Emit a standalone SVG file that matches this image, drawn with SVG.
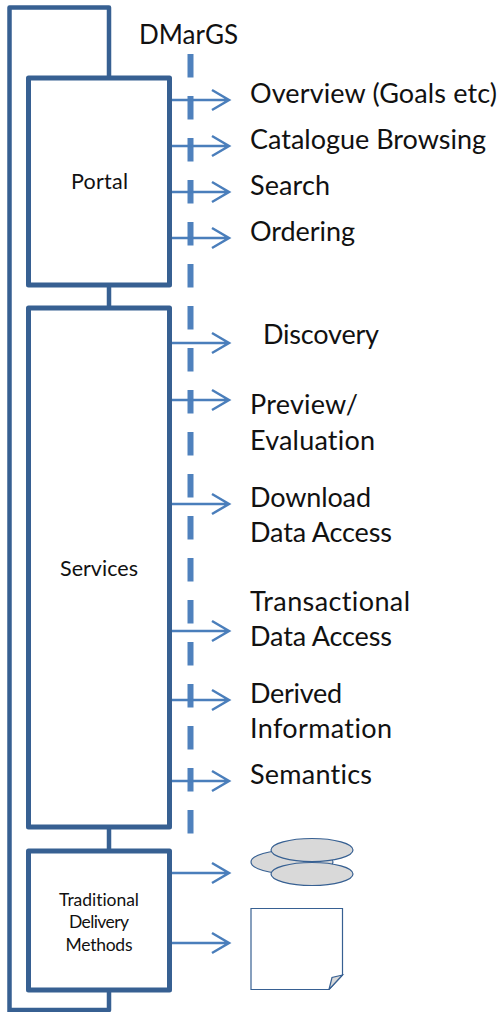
<svg xmlns="http://www.w3.org/2000/svg" width="499" height="1012" viewBox="0 0 499 1012">
<style>
.box{fill:#fff;stroke:#376092;stroke-width:5;stroke-linejoin:round}
.bus{fill:none;stroke:#376092;stroke-width:4.5;stroke-linejoin:round}
.dash{fill:none;stroke:#4f81bd;stroke-width:6;stroke-dasharray:23.5 18.5}
.arr{fill:none;stroke:#4a7ebb;stroke-width:2.5}
.shp{fill:#d9d9d9;stroke:#376092;stroke-width:1.2}
text{font-family:"Lato","Open Sans",sans-serif;fill:#111;font-variant-ligatures:none}
.l{font-size:27px}
.h{font-size:26px}
.s{font-size:21.5px;text-anchor:middle}
.t{font-size:17.5px;text-anchor:middle}
</style>
<rect width="499" height="1012" fill="#fff"/>
<g id="connectors">
<path class="bus" d="M9.500 1012V7.500H109V78M109 285V308M109 827V851M109 990V1010H9.500"/>
<path class="dash" d="M190.500 54V834"/>
<g id="arrows">
<path class="arr" d="M171 100H229M212 90L229 100L212 110"/>
<path class="arr" d="M171 146H229M212 136L229 146L212 156"/>
<path class="arr" d="M171 192H229M212 182L229 192L212 202"/>
<path class="arr" d="M171 238H229M212 228L229 238L212 248"/>
<path class="arr" d="M171 343H229M212 333L229 343L212 353"/>
<path class="arr" d="M171 400H229M212 390L229 400L212 410"/>
<path class="arr" d="M171 504H229M212 494L229 504L212 514"/>
<path class="arr" d="M171 631H229M212 621L229 631L212 641"/>
<path class="arr" d="M171 700H229M212 690L229 700L212 710"/>
<path class="arr" d="M171 781H229M212 771L229 781L212 791"/>
<path class="arr" d="M171 873H229M212 863L229 873L212 883"/>
<path class="arr" d="M171 943H229M212 933L229 943L212 953"/>
</g>
</g>
<g id="portal"><rect class="box" x="28.500" y="78" width="141" height="207"/><text class="s" x="99.500" y="189" textLength="57">Portal</text></g>
<g id="services"><rect class="box" x="28.500" y="308" width="141" height="519"/><text class="s" x="99" y="576" textLength="78">Services</text></g>
<g id="traditional"><rect class="box" x="28.500" y="851" width="141" height="139"/>
<text class="t" x="99" y="906" textLength="80">Traditional</text><text class="t" x="99" y="928" textLength="60">Delivery</text><text class="t" x="99" y="951" textLength="67">Methods</text></g>
<g id="title"><text class="h" x="139" y="44" textLength="99">DMarGS</text></g>
<g id="labels">
<text class="l" x="250" y="103" textLength="247">Overview (Goals etc)</text>
<text class="l" x="250" y="149" textLength="236">Catalogue Browsing</text>
<text class="l" x="250" y="195" textLength="80">Search</text>
<text class="l" x="250" y="241" textLength="105">Ordering</text>
<text class="l" x="263" y="344" textLength="116">Discovery</text>
<text class="l" x="250" y="413.500" textLength="108">Preview/</text>
<text class="l" x="250" y="450" textLength="125">Evaluation</text>
<text class="l" x="250" y="507" textLength="121">Download</text>
<text class="l" x="250" y="542" textLength="142">Data Access</text>
<text class="l" x="250" y="611" textLength="160">Transactional</text>
<text class="l" x="250" y="646" textLength="142">Data Access</text>
<text class="l" x="250" y="703" textLength="92">Derived</text>
<text class="l" x="250" y="738" textLength="142">Information</text>
<text class="l" x="250" y="784" textLength="122">Semantics</text>
</g>
<g id="discs">
<ellipse class="shp" cx="292" cy="862" rx="41" ry="12"/>
<ellipse class="shp" cx="312" cy="850" rx="41" ry="11.500"/>
<ellipse class="shp" cx="312" cy="874" rx="41" ry="11.500"/>
</g>
<g id="document">
<path d="M251 908.500H342.500V975L329 989.500H251Z" fill="#fff" stroke="#376092" stroke-width="1.200"/>
<path class="shp" d="M342.500 975L332 977.500L329 989.500Z"/>
</g>
</svg>
